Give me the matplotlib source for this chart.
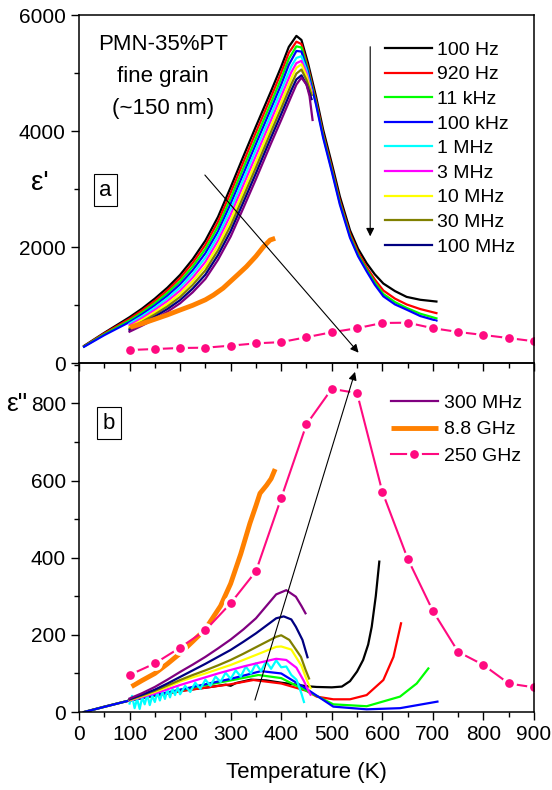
import matplotlib
matplotlib.use('Agg')
import matplotlib.pyplot as plt
from matplotlib.ticker import MultipleLocator

plt.rcParams['font.family'] = ['Liberation Sans', 'DejaVu Sans']

# ---- panel a : real part eps' ----
T_LF = [10, 50, 100, 125, 150, 175, 200, 225, 250, 275, 300, 325, 350, 380, 400, 415, 430, 440,
        453, 469, 483, 500, 516, 536, 552, 569, 585, 602, 625, 648, 675, 707]
e1_100Hz = [295, 520, 790, 940, 1110, 1300, 1520, 1790, 2110, 2520, 3030, 3560, 4080, 4690, 5110, 5450, 5640, 5570,
            5170, 4590, 4020, 3440, 2870, 2290, 1970, 1720, 1530, 1370, 1240, 1140, 1090, 1060]
e1_920Hz = [290, 510, 762, 907, 1071, 1254, 1466, 1727, 2038, 2437, 2936, 3460, 3979, 4590, 5008, 5347, 5540, 5500,
            5100, 4520, 3950, 3370, 2800, 2230, 1910, 1650, 1440, 1250, 1110, 1010, 930, 860]
e1_11kHz = [285, 495, 734, 874, 1032, 1208, 1411, 1664, 1966, 2354, 2841, 3360, 3878, 4490, 4906, 5244, 5460, 5440,
            5060, 4480, 3910, 3330, 2760, 2190, 1870, 1610, 1390, 1190, 1050, 950, 850, 770]
e1_100kHz = [280, 480, 706, 841, 993, 1162, 1357, 1601, 1894, 2271, 2747, 3260, 3777, 4390, 4803, 5141, 5380, 5370,
             5020, 4450, 3880, 3300, 2730, 2160, 1840, 1580, 1350, 1150, 1010, 920, 810, 730]

T_HF = [100, 125, 150, 175, 200, 225, 250, 275, 300, 325, 350, 380, 400, 420, 430, 440, 450, 460]
e1_1MHz = [679, 809, 954, 1116, 1302, 1537, 1817, 2191, 2652, 3164, 3676, 4290, 4701, 5117, 5260, 5290, 5050, 4700]
e1_3MHz = [651, 776, 916, 1069, 1248, 1473, 1743, 2109, 2558, 3066, 3574, 4190, 4599, 5013, 5170, 5210, 5000, 4680]
e1_10MHz = [623, 743, 877, 1023, 1193, 1410, 1670, 2027, 2463, 2967, 3473, 4090, 4497, 4910, 5090, 5150, 4950, 4650]
e1_30MHz = [595, 711, 838, 977, 1139, 1347, 1597, 1944, 2369, 2868, 3372, 3990, 4394, 4807, 4990, 5060, 4880, 4620]
e1_100MHz = [568, 678, 799, 931, 1084, 1283, 1523, 1862, 2274, 2769, 3271, 3890, 4292, 4703, 4890, 4960, 4800, 4550]
T1_300MHz = [100, 125, 150, 175, 200, 225, 250, 275, 300, 325, 350, 380, 400, 420, 430, 440, 450, 456, 462]
e1_300MHz = [540, 645, 760, 885, 1030, 1220, 1450, 1780, 2180, 2670, 3170, 3790, 4190, 4600, 4800, 4920, 4800, 4600, 4190]

T1_88GHz = [101, 125, 150, 175, 200, 225, 250, 266, 285, 300, 315, 331, 350, 365, 378, 388]
e1_88GHz = [615, 680, 755, 830, 914, 995, 1090, 1172, 1290, 1410, 1530, 1660, 1840, 2005, 2120, 2150]

T_THz = [100, 150, 200, 250, 300, 350, 400, 450, 500, 550, 600, 650, 700, 750, 800, 850, 900]
e1_250GHz = [224, 241, 259, 264, 299, 339, 360, 445, 530, 600, 690, 695, 600, 535, 483, 430, 375]

# ---- panel b : imaginary part eps'' ----
T2_100Hz = [10, 50, 100, 150, 200, 250, 290, 300, 310, 340, 370, 400, 430, 450, 470, 500, 520, 536, 550, 562, 572, 579, 587, 594]
e2_100Hz = [0, 14, 30, 42, 55, 63, 71, 68, 75, 84, 82, 76, 71, 67, 65, 64, 66, 80, 105, 135, 175, 221, 300, 390]
T2_920Hz = [10, 100, 200, 300, 345, 400, 450, 470, 503, 536, 569, 602, 622, 637]
e2_920Hz = [0, 30, 54, 72, 83, 74, 55, 40, 33, 33, 44, 83, 143, 230]
T2_11kHz = [10, 100, 200, 300, 355, 400, 450, 503, 569, 635, 668, 691]
e2_11kHz = [0, 30, 57, 82, 96, 88, 55, 20, 15, 40, 74, 113]
T2_100kHz = [10, 100, 200, 300, 360, 400, 450, 503, 569, 635, 709]
e2_100kHz = [0, 30, 58, 86, 106, 100, 60, 14, 7, 10, 27]
T2_1MHz = [100, 105, 110, 115, 120, 125, 130, 135, 140, 145, 150, 155, 160, 165, 170, 175, 180, 185, 190, 195,
           200, 210, 220, 230, 240, 250, 260, 270, 280, 290, 300, 310, 320, 330, 340, 350, 360, 370, 380, 390,
           400, 410, 420, 430, 440, 445]
e2_1MHz = [22, 42, 10, 34, 8, 38, 20, 45, 18, 42, 26, 50, 30, 52, 34, 58, 38, 60, 44, 64,
           46, 68, 52, 76, 60, 84, 68, 92, 78, 102, 86, 108, 92, 118, 100, 126, 106, 132, 112, 134,
           116, 118, 96, 84, 48, 26]
T2_3MHz = [100, 125, 150, 175, 200, 225, 250, 275, 300, 325, 350, 390, 410, 430, 445, 452, 458]
e2_3MHz = [30, 39, 48, 59, 70, 80, 90, 100, 109, 118, 126, 138, 135, 115, 80, 60, 45]
T2_10MHz = [100, 125, 150, 175, 200, 225, 250, 275, 300, 325, 350, 390, 400, 420, 440, 450, 455, 458]
e2_10MHz = [31, 41, 52, 65, 79, 90, 100, 111, 122, 135, 148, 169, 170, 162, 120, 85, 70, 62]
T2_30MHz = [100, 125, 150, 175, 200, 225, 250, 275, 300, 325, 350, 390, 400, 416, 439, 448, 455]
e2_30MHz = [32, 43, 55, 69, 83, 96, 108, 121, 135, 151, 168, 195, 199, 187, 143, 110, 87]
T2_100MHz = [100, 125, 150, 175, 200, 225, 250, 275, 300, 325, 350, 390, 405, 420, 429, 442, 452]
e2_100MHz = [33, 45, 58, 74, 91, 108, 125, 143, 161, 182, 204, 243, 248, 240, 221, 187, 142]
T2_300MHz = [100, 125, 150, 175, 200, 225, 250, 275, 300, 325, 350, 390, 410, 429, 440, 448]
e2_300MHz = [35, 49, 65, 84, 104, 123, 143, 165, 188, 214, 243, 305, 316, 299, 275, 256]
T2_88GHz = [104, 125, 150, 175, 200, 225, 250, 265, 280, 300, 320, 338, 350, 358, 371, 380, 388]
e2_88GHz = [66, 82, 100, 125, 152, 183, 215, 245, 275, 333, 410, 489, 535, 567, 588, 605, 630]
e2_250GHz = [96, 126, 167, 212, 282, 365, 555, 746, 838, 827, 571, 398, 262, 156, 122, 74, 64]

labels_a = ['100 Hz', '920 Hz', '11 kHz', '100 kHz', '1 MHz', '3 MHz', '10 MHz', '30 MHz', '100 MHz']
colors_a = ['#000000', '#ff0000', '#00ff00', '#0000ff', '#00ffff', '#ff00ff', '#ffff00', '#808000', '#000080']
c300 = '#800080'
c88 = '#ff8000'
cthz = '#ff0a80'

fig = plt.figure(figsize=(5.52, 7.9), dpi=100)
ax1 = fig.add_axes([0.1431, 0.5405, 0.8243, 0.4405])
ax2 = fig.add_axes([0.1431, 0.0987, 0.8243, 0.4418])
ax1.set_zorder(3)
ax1.patch.set_alpha(0)

lw = 1.6
top_T = [T_LF] * 4 + [T_HF] * 5
top_e = [e1_100Hz, e1_920Hz, e1_11kHz, e1_100kHz, e1_1MHz, e1_3MHz, e1_10MHz, e1_30MHz, e1_100MHz]
for t, e, c, lab in zip(top_T, top_e, colors_a, labels_a):
    ax1.plot(t, e, color=c, lw=lw, label=lab)
ax1.plot(T1_300MHz, e1_300MHz, color=c300, lw=lw)
ax1.plot(T1_88GHz, e1_88GHz, color=c88, lw=3.5, solid_capstyle='butt')
ax1.plot(T_THz, e1_250GHz, color=cthz, lw=1.5, marker='o', ms=8.5,
         mec='white', mew=2.2, mfc=cthz)

bot_T = [T2_100Hz, T2_920Hz, T2_11kHz, T2_100kHz, T2_1MHz, T2_3MHz, T2_10MHz, T2_30MHz, T2_100MHz]
bot_e = [e2_100Hz, e2_920Hz, e2_11kHz, e2_100kHz, e2_1MHz, e2_3MHz, e2_10MHz, e2_30MHz, e2_100MHz]
for t, e, c in zip(bot_T, bot_e, colors_a):
    ax2.plot(t, e, color=c, lw=lw)
ax2.plot(T2_300MHz, e2_300MHz, color=c300, lw=lw, label='300 MHz')
ax2.plot(T2_88GHz, e2_88GHz, color=c88, lw=3.5, solid_capstyle='butt', label='8.8 GHz')
ax2.plot(T_THz, e2_250GHz, color=cthz, lw=1.5, marker='o', ms=8.5,
         mec='white', mew=2.2, mfc=cthz, label='250 GHz')

for ax in (ax1, ax2):
    ax.set_xlim(0, 900)
    ax.xaxis.set_major_locator(MultipleLocator(100))
    ax.xaxis.set_minor_locator(MultipleLocator(50))
    ax.tick_params(which='major', direction='out', length=6, width=1.0, labelsize=15)
    ax.tick_params(which='minor', direction='out', length=3.5, width=1.0)
    for s in ax.spines.values():
        s.set_linewidth(1.1)

ax1.set_ylim(0, 6000)
ax1.yaxis.set_major_locator(MultipleLocator(2000))
ax1.yaxis.set_minor_locator(MultipleLocator(1000))
ax1.tick_params(labelbottom=False)
ax2.set_ylim(0, 905)
ax2.yaxis.set_major_locator(MultipleLocator(200))
ax2.yaxis.set_minor_locator(MultipleLocator(100))

ax1.text(-0.086, 0.517, "ε'", transform=ax1.transAxes, ha='center', va='center', fontsize=20)
ax2.text(-0.137, 0.8825, 'ε"', transform=ax2.transAxes, ha='center', va='center', fontsize=19)
ax2.text(0.5, -0.172, 'Temperature (K)', transform=ax2.transAxes, ha='center', va='center', fontsize=16)

box = dict(boxstyle='square,pad=0.25', fc='white', ec='black', lw=0.8)
ax1.text(0.058, 0.496, 'a', transform=ax1.transAxes, ha='center', va='center', fontsize=16, bbox=box)
ax2.text(0.066, 0.827, 'b', transform=ax2.transAxes, ha='center', va='center', fontsize=16, bbox=box)

ax1.text(166, 4940, 'PMN-35%PT\nfine grain\n(~150 nm)', ha='center', va='center',
         fontsize=16, linespacing=1.7)

arr = dict(arrowstyle='-|>', color='black', lw=0.8, mutation_scale=12, shrinkA=0, shrinkB=0)
ax1.annotate('', xy=(553, 178), xytext=(249, 3241), arrowprops=arr)
ax1.annotate('', xy=(576, 2184), xytext=(576, 5453), arrowprops=arr)
ax2.annotate('', xy=(546, 882), xytext=(348, 31), arrowprops=arr)

ax1.legend(loc='upper left', bbox_to_anchor=(0.6725, 0.925), frameon=False, fontsize=14,
           handlelength=2.4, handletextpad=0.3, labelspacing=0.36, borderpad=0, borderaxespad=0)
ax2.legend(loc='upper left', bbox_to_anchor=(0.686, 0.91), frameon=False, fontsize=14,
           handlelength=2.4, handletextpad=0.3, labelspacing=0.45, borderpad=0, borderaxespad=0)

fig.savefig('out.png', dpi=100)
